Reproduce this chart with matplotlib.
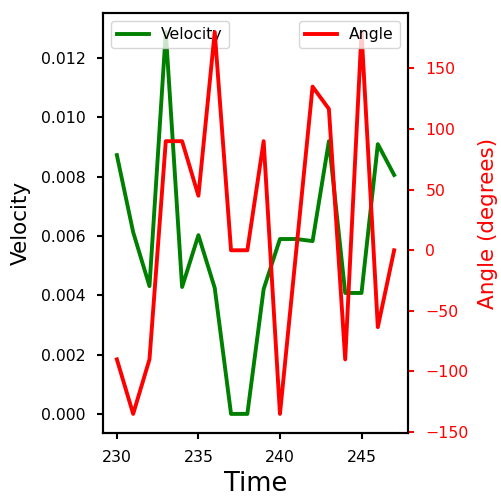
import matplotlib
matplotlib.use('Agg')
import matplotlib.pyplot as plt

# Zeitachse und Messwerte
time = [230, 231, 232, 233, 234, 235, 236, 237, 238, 239,
        240, 241, 242, 243, 244, 245, 246, 247]
velocity = [0.00873, 0.00613, 0.00431, 0.01288, 0.00428, 0.00603, 0.00425, 0.0, 0.0, 0.00421,
            0.0059, 0.0059, 0.00583, 0.0092, 0.00408, 0.00408, 0.0091, 0.00806]
angle = [-90, -135, -90, 90, 90, 45, 180, 0, 0, 90,
         -135, 0, 135, 116.6, -90, 180, -63.4, 0]

fig = plt.figure(figsize=(5.02, 5.04), dpi=100)
ax1 = fig.add_axes([103/502, 71/504, 305/502, 420/504])
ax2 = ax1.twinx()

ax1.plot(time, velocity, color='green', linewidth=2.8, label='Velocity')
ax2.plot(time, angle, color='red', linewidth=2.8, label='Angle')

ax1.set_xlabel('Time', fontsize=18.5, labelpad=4)
ax1.set_ylabel('Velocity', fontsize=15.5, labelpad=7)
ax2.set_ylabel('Angle (degrees)', fontsize=15.5, color='red', labelpad=7)

ax1.set_xticks([230, 235, 240, 245])
ax1.tick_params(labelsize=11.3, width=1.5, length=4.5, pad=8)
ax2.tick_params(axis='y', labelsize=11.3, width=1.5, length=4.5, pad=8, colors='red')

for sp in ax2.spines.values():
    sp.set_linewidth(1.5)
for sp in ax1.spines.values():
    sp.set_linewidth(1.5)

ax1.legend(loc='upper left', fontsize=11.3)
ax2.legend(loc='upper right', fontsize=11.3)

plt.savefig('out.png', dpi=100)
